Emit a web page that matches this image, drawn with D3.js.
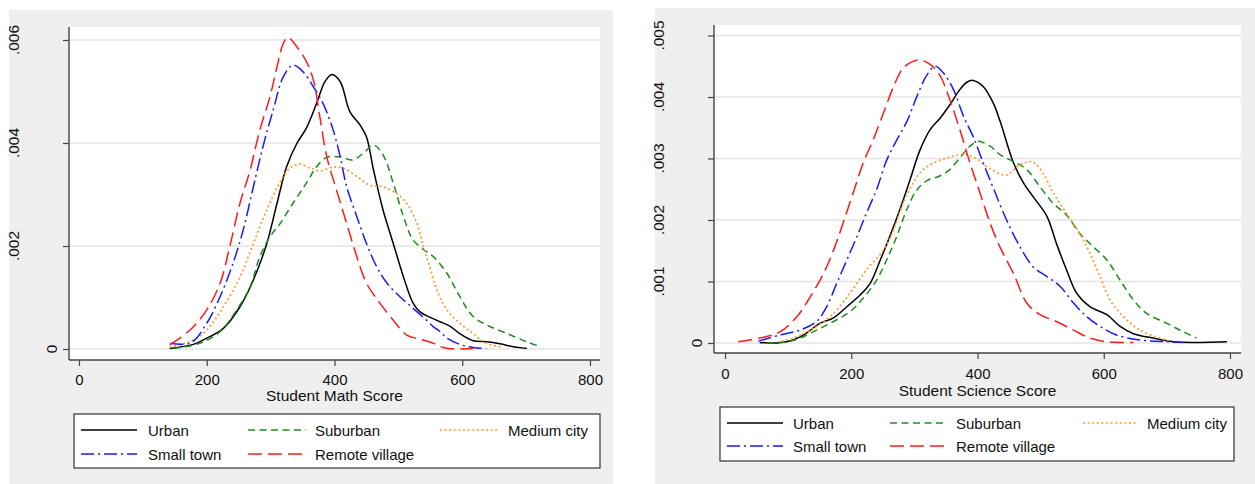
<!DOCTYPE html>
<html>
<head>
<meta charset="utf-8">
<script src="https://cdn.jsdelivr.net/npm/d3@7"></script>
<style>
  html, body { margin: 0; padding: 0; background: #ffffff; }
  svg { display: block; }
  text { font-family: "Liberation Sans", Arial, Helvetica, sans-serif; fill: #111; }
</style>
</head>
<body>
<svg id="chart" width="1255" height="484"></svg>
<script>
// ---------------- DATA (density values in units of 0.001) ----------------
const groups = ["Urban", "Suburban", "Medium city", "Small town", "Remote village"];
const xTickValues = [0, 200, 400, 600, 800];
const mathYTickValues = [0, 2, 4, 6];
const mathYTickLabels = ["0", ".002", ".004", ".006"];
const sciYTickValues = [0, 1, 2, 3, 4, 5];
const sciYTickLabels = ["0", ".001", ".002", ".003", ".004", ".005"];
const mathTitle = "Student Math Score";
const sciTitle = "Student Science Score";

// Student Math Score densities: [score, density]
const mathUrban = [[142,0.01],[179,0.09],[200,0.21],[226,0.40],[252,0.82],[273,1.34],[294,2.05],[310,2.83],[325,3.54],[341,3.99],[356,4.29],[372,4.77],[385,5.19],[396,5.33],[409,5.19],[424,4.61],[440,4.35],[450,4.12],[461,3.48],[476,2.70],[492,2.05],[508,1.40],[523,0.89],[534,0.72],[549,0.62],[565,0.53],[580,0.45],[596,0.30],[617,0.16],[638,0.14],[659,0.10],[680,0.045],[701,0.01]];
const mathSuburban = [[148,0.01],[189,0.11],[221,0.34],[247,0.76],[268,1.21],[283,1.79],[299,2.18],[315,2.44],[335,2.83],[356,3.22],[372,3.54],[388,3.72],[409,3.73],[429,3.67],[445,3.80],[461,3.96],[476,3.77],[492,3.22],[508,2.57],[523,2.12],[544,1.89],[555,1.79],[576,1.47],[596,1.02],[617,0.63],[638,0.47],[670,0.30],[701,0.14],[719,0.06]];
const mathMedium = [[142,0.04],[175,0.15],[200,0.37],[226,0.82],[252,1.40],[273,2.05],[294,2.70],[315,3.25],[330,3.51],[346,3.59],[362,3.51],[377,3.46],[398,3.53],[414,3.51],[435,3.35],[455,3.18],[476,3.15],[497,3.02],[513,2.83],[529,2.44],[539,1.99],[549,1.60],[560,1.15],[575,0.78],[596,0.50],[617,0.30],[638,0.11],[664,0.03]];
const mathSmall = [[143,0.11],[175,0.12],[200,0.50],[221,1.02],[241,1.66],[257,2.31],[273,3.15],[288,3.93],[304,4.64],[320,5.29],[335,5.51],[351,5.38],[367,5.09],[382,4.77],[398,4.25],[409,3.73],[419,3.15],[435,2.57],[450,2.05],[466,1.60],[482,1.28],[502,1.02],[523,0.79],[544,0.56],[555,0.43],[565,0.34],[576,0.21],[596,0.09],[617,0.03],[638,0.01]];
const mathRemote = [[142,0.08],[174,0.37],[200,0.76],[221,1.28],[236,1.99],[252,2.83],[268,3.48],[283,4.25],[299,4.90],[310,5.48],[320,5.94],[327,6.05],[341,5.87],[356,5.58],[367,5.22],[377,4.51],[388,3.73],[403,3.09],[419,2.44],[435,1.79],[450,1.28],[471,0.89],[492,0.56],[513,0.27],[534,0.19],[555,0.11],[570,0.03],[590,0.0],[617,0.01]];

// Student Science Score densities: [score, density]
const sciUrban = [[55,0.01],[82,0.0],[108,0.05],[129,0.16],[150,0.32],[172,0.41],[193,0.59],[214,0.78],[230,0.97],[246,1.35],[261,1.73],[277,2.17],[293,2.65],[309,3.14],[325,3.47],[341,3.66],[356,3.87],[372,4.12],[383,4.24],[393,4.27],[409,4.17],[425,3.90],[436,3.60],[457,2.93],[473,2.60],[488,2.38],[510,2.06],[525,1.62],[541,1.19],[557,0.81],[578,0.59],[605,0.46],[626,0.27],[647,0.15],[678,0.08],[710,0.02],[752,0.01],[795,0.02]];
const sciSuburban = [[66,0.0],[98,0.02],[119,0.08],[145,0.21],[172,0.35],[198,0.51],[219,0.73],[240,1.02],[256,1.35],[272,1.73],[288,2.17],[304,2.49],[320,2.64],[341,2.72],[356,2.82],[372,3.01],[388,3.20],[401,3.28],[420,3.20],[436,3.06],[457,2.95],[478,2.82],[499,2.54],[520,2.27],[541,2.08],[562,1.78],[583,1.57],[605,1.35],[626,1.02],[647,0.70],[668,0.48],[700,0.32],[726,0.18],[747,0.08]];
const sciMedium = [[90,0.03],[108,0.08],[145,0.27],[172,0.48],[198,0.81],[224,1.19],[251,1.51],[267,1.84],[282,2.27],[298,2.60],[314,2.82],[335,2.95],[356,3.02],[378,3.07],[399,2.99],[420,2.83],[446,2.73],[467,2.90],[488,2.94],[504,2.76],[520,2.44],[541,2.11],[562,1.78],[578,1.46],[594,1.08],[610,0.70],[631,0.43],[657,0.21],[689,0.08],[705,0.03]];
const sciSmall = [[53,0.03],[87,0.13],[119,0.21],[145,0.35],[161,0.59],[177,0.97],[193,1.35],[209,1.73],[224,2.11],[240,2.49],[256,2.97],[272,3.30],[288,3.60],[304,4.01],[320,4.36],[333,4.50],[346,4.39],[362,4.12],[378,3.68],[393,3.36],[409,2.93],[425,2.52],[446,2.00],[467,1.57],[488,1.24],[510,1.08],[531,0.92],[552,0.65],[573,0.43],[594,0.27],[620,0.13],[657,0.05],[700,0.02],[725,0.01]];
const sciRemote = [[21,0.02],[55,0.08],[87,0.18],[114,0.43],[135,0.75],[156,1.13],[172,1.51],[187,1.95],[203,2.44],[219,2.93],[235,3.31],[251,3.74],[267,4.17],[282,4.47],[298,4.58],[309,4.60],[325,4.53],[341,4.34],[356,3.96],[372,3.47],[388,2.93],[404,2.44],[420,1.95],[436,1.55],[457,1.13],[478,0.65],[499,0.46],[525,0.35],[552,0.21],[578,0.08],[605,0.02],[647,0.01]];

// ---------------- STYLES ----------------
const styles = {
  "Urban":          { color: "#000000", dash: null,          width: 1.5 },
  "Suburban":       { color: "#1f8a1f", dash: "7,4.5",       width: 1.5 },
  "Medium city":    { color: "#ff9a2e", dash: "2,2.6",       width: 1.7 },
  "Small town":     { color: "#1a1aff", dash: "13,4,2,4",    width: 1.5 },
  "Remote village": { color: "#ff1a1a", dash: "14,6",        width: 1.5 }
};

const svg = d3.select("#chart");

function drawPanel(cfg) {
  const g = svg.append("g");
  // outer gray background
  g.append("rect").attr("x", cfg.bg[0]).attr("y", cfg.bg[1])
    .attr("width", cfg.bg[2] - cfg.bg[0]).attr("height", cfg.bg[3] - cfg.bg[1])
    .attr("fill", "#efefef");
  // plot region
  g.append("rect").attr("x", cfg.plot[0]).attr("y", cfg.plot[1])
    .attr("width", cfg.plot[2] - cfg.plot[0]).attr("height", cfg.plot[3] - cfg.plot[1])
    .attr("fill", "#ffffff");

  const x = d3.scaleLinear().domain([0, 800]).range([cfg.x0, cfg.x800]);
  const y = d3.scaleLinear().domain([0, cfg.yTop]).range([cfg.y0, cfg.yTopPx]);

  // gridlines
  g.append("g").selectAll("line").data(cfg.yTicks).join("line")
    .attr("x1", cfg.plot[0]).attr("x2", cfg.plot[2])
    .attr("y1", d => y(d)).attr("y2", d => y(d))
    .attr("stroke", "#e4e4e4").attr("stroke-width", 1.6);

  // curves
  const line = d3.line().x(d => x(d[0])).y(d => y(d[1])).curve(d3.curveCatmullRom.alpha(0.5));
  cfg.series.forEach((s, i) => {
    const st = styles[groups[i]];
    g.append("path").datum(s).attr("d", line)
      .attr("fill", "none").attr("stroke", st.color).attr("stroke-width", st.width)
      .attr("stroke-dasharray", st.dash).attr("stroke-linejoin", "round");
  });

  // axes
  const xAxis = d3.axisBottom(x).tickValues(xTickValues).tickSize(6).tickPadding(6);
  const xg = g.append("g").attr("transform", `translate(0,${cfg.plot[3]})`).call(xAxis);
  xg.select(".domain").remove();
  xg.selectAll(".tick line").attr("stroke", "#444").attr("stroke-width", 1.2);
  xg.selectAll(".tick text").attr("font-size", 15).attr("fill", "#111")
    .attr("font-family", '"Liberation Sans", Arial, sans-serif')
    .attr("dy", null).attr("y", cfg.xLabelBase - cfg.plot[3]);
  g.append("line").attr("x1", cfg.plot[0]).attr("x2", cfg.plot[2])
    .attr("y1", cfg.plot[3]).attr("y2", cfg.plot[3]).attr("stroke", "#444").attr("stroke-width", 1.4);

  const yAxis = d3.axisLeft(y).tickValues(cfg.yTicks).tickSize(6).tickFormat("");
  const yg = g.append("g").attr("transform", `translate(${cfg.plot[0]},0)`).call(yAxis);
  yg.select(".domain").remove();
  yg.selectAll(".tick line").attr("stroke", "#444").attr("stroke-width", 1.2);
  g.append("line").attr("x1", cfg.plot[0]).attr("x2", cfg.plot[0])
    .attr("y1", cfg.plot[1]).attr("y2", cfg.plot[3]).attr("stroke", "#444").attr("stroke-width", 1.4);

  // rotated y tick labels
  g.append("g").selectAll("text").data(cfg.yTicks).join("text")
    .attr("transform", (d, i) => {
      const lab = cfg.yLabels[i];
      const off = 18 + (lab.length - 1) * 12.6;
      return `translate(${cfg.plot[0] - off},${y(d)}) rotate(-90)`;
    })
    .attr("text-anchor", "middle").attr("dominant-baseline", "central")
    .attr("font-size", 15.5).text((d, i) => cfg.yLabels[i]);

  // x title
  g.append("text").attr("x", (cfg.plot[0] + cfg.plot[2]) / 2).attr("y", cfg.titleBase)
    .attr("text-anchor", "middle").attr("font-size", 15.5).text(cfg.title);

  // legend
  const L = cfg.legend;
  g.append("rect").attr("x", L.box[0]).attr("y", L.box[1])
    .attr("width", L.box[2] - L.box[0]).attr("height", L.box[3] - L.box[1])
    .attr("fill", "#ffffff").attr("stroke", "#333").attr("stroke-width", 1.2);
  const order = [["Urban", 0, 0], ["Suburban", 1, 0], ["Medium city", 2, 0], ["Small town", 0, 1], ["Remote village", 1, 1]];
  order.forEach(([name, c, r]) => {
    const st = styles[name];
    const yy = L.rows[r];
    g.append("line").attr("x1", L.lines[c][0]).attr("x2", L.lines[c][1])
      .attr("y1", yy).attr("y2", yy)
      .attr("stroke", st.color).attr("stroke-width", st.width).attr("stroke-dasharray", st.dash);
    g.append("text").attr("x", L.texts[c]).attr("y", yy).attr("dominant-baseline", "central")
      .attr("font-size", 15).text(name);
  });
}

drawPanel({
  bg: [9, 10, 613, 484],
  plot: [69, 27, 600, 360],
  x0: 79, x800: 590,
  y0: 349, yTopPx: 40, yTop: 6,
  yTicks: mathYTickValues, yLabels: mathYTickLabels,
  xLabelBase: 385, titleBase: 401, title: mathTitle,
  series: [mathUrban, mathSuburban, mathMedium, mathSmall, mathRemote],
  legend: { box: [74, 414, 600, 468], rows: [430, 454],
            lines: [[81, 137], [248, 306], [440, 498]], texts: [148, 315, 508] }
});

drawPanel({
  bg: [655, 8, 1255, 484],
  plot: [714, 25, 1241, 353],
  x0: 725, x800: 1230,
  y0: 343, yTopPx: 35.5, yTop: 5,
  yTicks: sciYTickValues, yLabels: sciYTickLabels,
  xLabelBase: 379, titleBase: 396, title: sciTitle,
  series: [sciUrban, sciSuburban, sciMedium, sciSmall, sciRemote],
  legend: { box: [720, 407, 1234, 461], rows: [423, 446],
            lines: [[727, 783], [890, 946], [1083, 1137]], texts: [793, 956, 1147] }
});
</script>
</body>
</html>
